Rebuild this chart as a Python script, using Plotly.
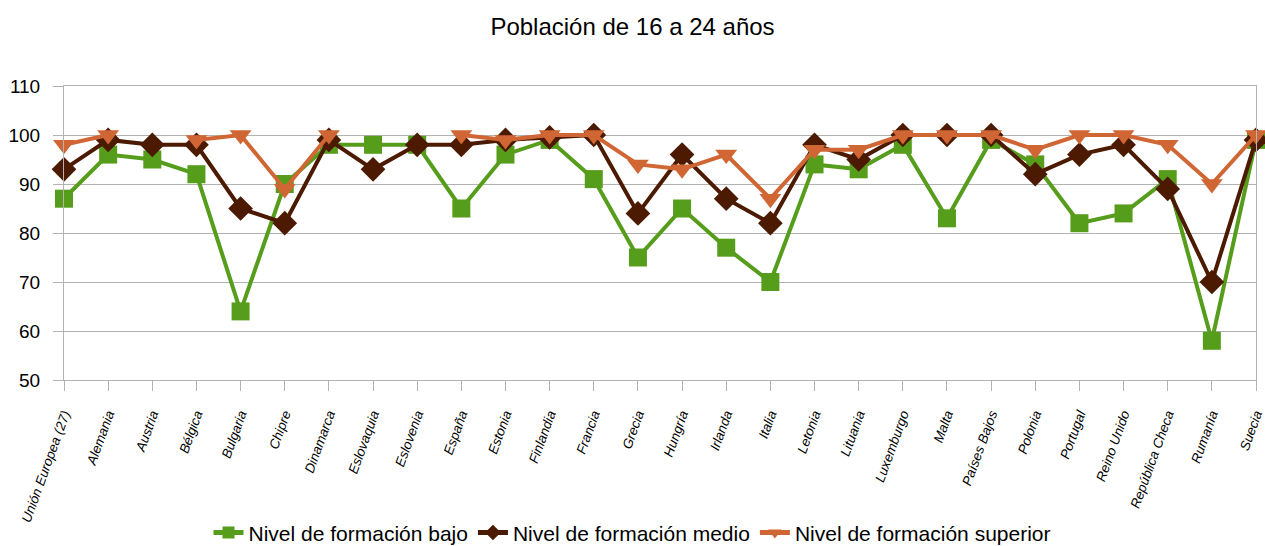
import plotly.graph_objects as go

PAISES = [
    "Unión Europea (27)", "Alemania", "Austria", "Bélgica", "Bulgaria", "Chipre",
    "Dinamarca", "Eslovaquia", "Eslovenia", "España", "Estonia", "Finlandia",
    "Francia", "Grecia", "Hungría", "Irlanda", "Italia", "Letonia", "Lituania",
    "Luxemburgo", "Malta", "Países Bajos", "Polonia", "Portugal", "Reino Unido",
    "República Checa", "Rumanía", "Suecia",
]

BAJO = [87, 96, 95, 92, 64, 90, 98, 98, 98, 85, 96, 99, 91, 75, 85, 77, 70,
        94, 93, 98, 83, 99, 94, 82, 84, 91, 58, 99]
MEDIO = [93, 99, 98, 98, 85, 82, 99, 93, 98, 98, 99, 99.5, 100, 84, 96, 87, 82,
         98, 95, 100, 100, 100, 92, 96, 98, 89, 70, 99]
SUPERIOR = [98, 100, None, 99, 100, 89, 100, None, None, 100, 99, 100, 100, 94,
            93, 96, 87, 97, 97, 100, 100, 100, 97, 100, 100, 98, 90, 100]

VERDE = "#579d1c"
MARRON = "#4b1a00"
NARANJA = "#d06634"
GRIS = "#b3b3b3"
FONT = "Liberation Sans, Arial, sans-serif"

fig = go.Figure()
fig.add_trace(go.Scatter(
    x=PAISES, y=BAJO, name="Nivel de formación bajo",
    mode="lines+markers", cliponaxis=False,
    line=dict(color=VERDE, width=4),
    marker=dict(symbol="square", size=18, color=VERDE),
))
fig.add_trace(go.Scatter(
    x=PAISES, y=MEDIO, name="Nivel de formación medio",
    mode="lines+markers", cliponaxis=False,
    line=dict(color=MARRON, width=4),
    marker=dict(symbol="diamond", size=19, color=MARRON),
))
fig.add_trace(go.Scatter(
    x=PAISES, y=SUPERIOR, name="Nivel de formación superior",
    mode="lines+markers", cliponaxis=False,
    line=dict(color=NARANJA, width=4),
    marker=dict(symbol="triangle-down", size=19, color=NARANJA),
))

fig.update_layout(
    width=1265, height=546,
    title=dict(text="Población de 16 a 24 años", x=0.5, xanchor="center",
               y=0.952, yanchor="middle", font=dict(size=24, color="#000", family=FONT)),
    font=dict(family=FONT, color="#000"),
    plot_bgcolor="white",
    paper_bgcolor="white",
    margin=dict(l=64, r=9, t=86, b=166),
    legend=dict(orientation="h", x=0.5, xanchor="center", xref="container",
                y=0.024, yanchor="middle", yref="container",
                font=dict(size=21), itemwidth=30, itemsizing="constant",
                tracegroupgap=0),
    showlegend=True,
)
fig.update_xaxes(
    type="category", range=[0, 27], automargin=False,
    showline=True, linecolor=GRIS, linewidth=1, mirror=True,
    ticks="outside", ticklen=10, tickcolor=GRIS, ticklabelstandoff=10,
    tickangle=-70, tickfont=dict(size=13.5, style="italic", family=FONT),
    showgrid=False,
)
fig.update_yaxes(
    range=[50, 110], dtick=10, automargin=False,
    showline=True, linecolor=GRIS, linewidth=1, mirror=True,
    ticks="outside", ticklen=10, tickcolor=GRIS, ticklabelstandoff=9,
    tickfont=dict(size=19),
    showgrid=True, gridcolor=GRIS, gridwidth=1, zeroline=False,
)

# the page body has a default 8px margin; drop it so the chart fills the window
fig.write_html("out.html", config={"displayModeBar": False},
               post_script="document.body.style.margin = '0';")
